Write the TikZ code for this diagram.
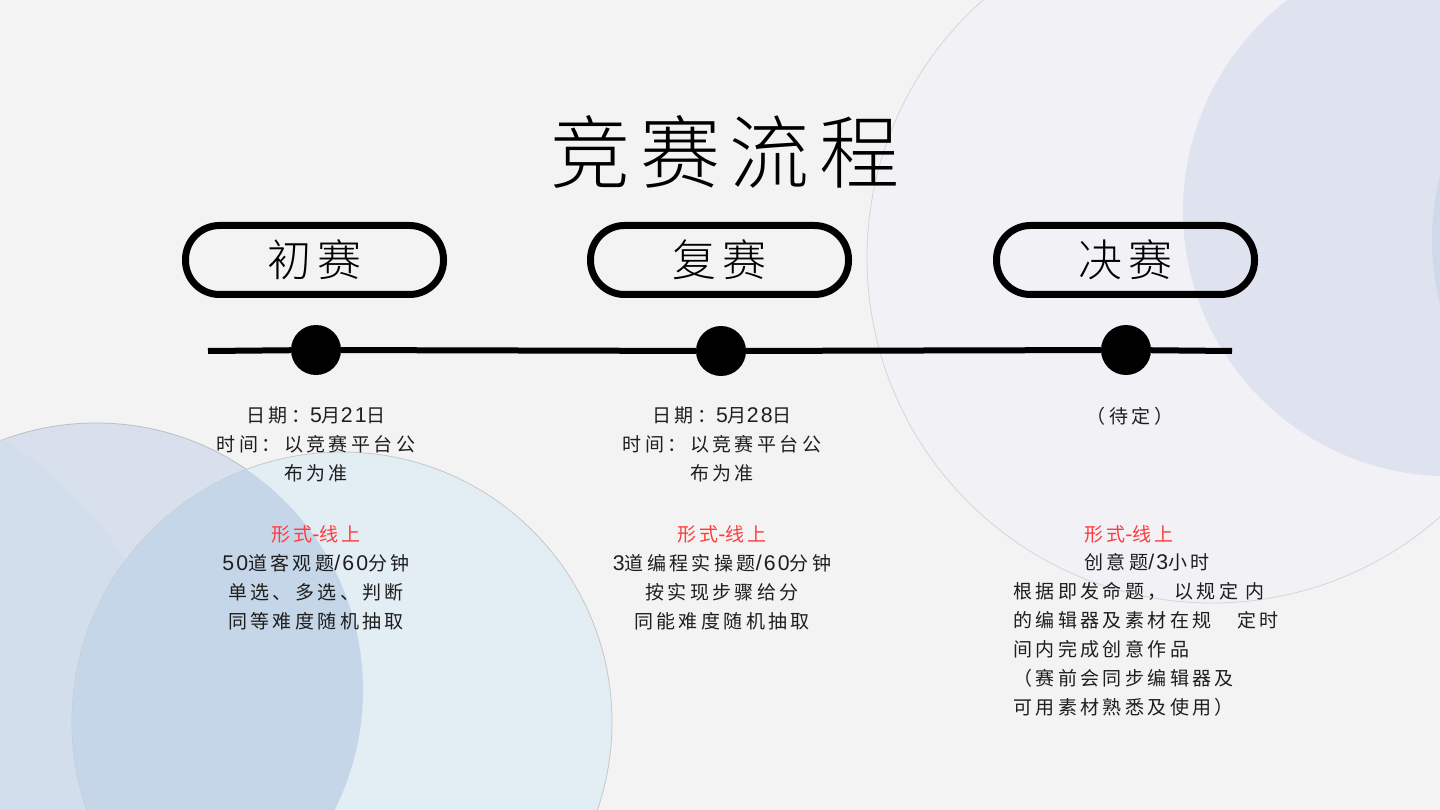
\documentclass[tikz,border=0pt]{standalone}
\usepackage{fontspec}
\setmainfont{Noto Sans CJK SC}
\newfontfamily\bodyfont[LetterSpace=18]{Noto Sans CJK SC}
\newfontfamily\headfont[LetterSpace=12]{Noto Sans CJK SC Light}
\newfontfamily\latfont[Scale=1.12,LetterSpace=10]{Liberation Sans}
\newcommand\lat[1]{{\latfont#1}}
\definecolor{paper}{HTML}{F3F3F3}
\definecolor{ink}{HTML}{1E1E1E}
\definecolor{formred}{HTML}{FF3B3B}
\definecolor{haze}{HTML}{F2F1F6}
\definecolor{rimgray}{HTML}{D6D6D6}
\definecolor{skyblue}{HTML}{DFE3EF}
\definecolor{edgeblue}{HTML}{CFD9EA}
\definecolor{leftblue}{HTML}{D7E0EC}
\definecolor{deepblue}{HTML}{D3DEED}
\definecolor{paleblue}{HTML}{E3EDF4}
\definecolor{mixblue}{HTML}{C6D6E9}
\tikzset{
  stage/.style={draw,line width=7pt,rounded corners=34pt,minimum width=258pt,
    minimum height=69pt,inner sep=0pt,font=\headfont\fontsize{44}{44}\selectfont},
  milestone/.style={circle,fill=black,minimum size=50pt,inner sep=0pt},
  info/.style={align=center,anchor=north,inner sep=0pt,text=ink,
    font=\bodyfont\fontsize{19}{29}\selectfont},
  timeline/.style={line width=6pt}
}

\begin{document}
\begin{tikzpicture}[x=1pt,y=-1pt]
  \useasboundingbox (0,0) rectangle (1440,810);
  \clip (0,0) rectangle (1440,810);
  \fill[paper] (0,0) rectangle (1440,810);
  % backdrop circles
  \filldraw[fill=haze,draw=rimgray,line width=0.8pt] (1212,258) circle (345pt);
  \fill[skyblue] (1448,211) circle (265pt);
  \fill[edgeblue] (1700,240) circle (268pt);
  \filldraw[fill=leftblue,draw=black!25,line width=0.8pt] (96,690) circle (267pt);
  \begin{scope}
    \clip (96,690) circle (267pt);
    \fill[deepblue] (-222,790) circle (417pt);
  \end{scope}
  \filldraw[fill=paleblue,draw=black!22,line width=0.8pt] (342,722) circle (270pt);
  \begin{scope}
    \clip (96,690) circle (267pt);
    \fill[mixblue] (342,722) circle (270pt);
  \end{scope}

  \node (title) at (725,152) {\headfont\fontsize{80}{80}\selectfont 竞赛流程};

  \node[stage] (round1) at (314.5,260) {初赛};
  \node[stage] (round2) at (719.5,260) {复赛};
  \node[stage] (round3) at (1125.5,260) {决赛};

  \coordinate (lineL) at (208,351);
  \coordinate (lineR) at (1232,351);
  \node[milestone] (dot1) at (316,350) {};
  \node[milestone] (dot2) at (721,351) {};
  \node[milestone] (dot3) at (1126,350) {};
  \draw[timeline] (lineL) -- (dot1) -- (dot2) -- (dot3) -- (lineR);

  \node[info] (info1) at (316,407) {日期：\lat{5}月\lat{21}日\\时间：以竞赛平台公\\布为准\\[32pt]
    \textcolor{formred}{形式\lat{-}线上}\\\lat{50}道客观题\lat{/60}分钟\\单选、多选、判断\\同等难度随机抽取};
  \node[info] (info2) at (722,407) {日期：\lat{5}月\lat{28}日\\时间：以竞赛平台公\\布为准\\[32pt]
    \textcolor{formred}{形式\lat{-}线上}\\\lat{3}道编程实操题\lat{/60}分钟\\按实现步骤给分\\同能难度随机抽取};
  \node[info] (info3) at (1130,407) {（待定）};
  \node[info,text=formred] (form3) at (1129,525) {形式\lat{-}线上};
  \node[info] (task3) at (1147,553) {创意题\lat{/3}小时};
  \node[info,align=left,anchor=north west] (detail3) at (1013,582)
    {根据即发命题， 以规定 内\\的编辑器及素材在规　定时\\间内完成创意作品\\（赛前会同步编辑器及\\可用素材熟悉及使用）};
\end{tikzpicture}
\end{document}
